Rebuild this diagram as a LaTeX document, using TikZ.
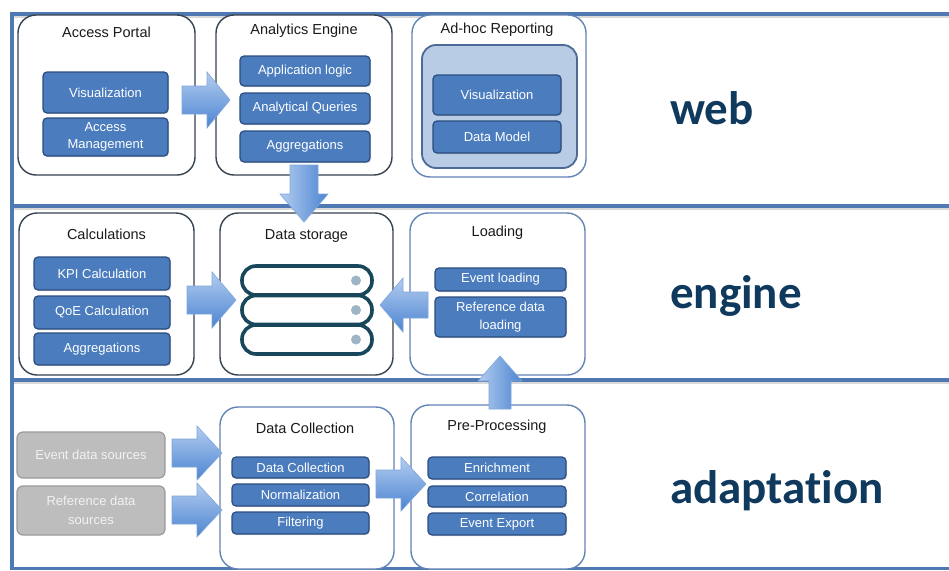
\documentclass[tikz,border=0pt]{standalone}
\usepackage{fontspec}
\setmainfont{Liberation Sans}
\newfontfamily\layerfont[Ligatures={NoCommon}]{Carlito}
\usetikzlibrary{shadows}

\definecolor{bandblue}{HTML}{4F79B2}
\definecolor{darkedge}{HTML}{36424F}
\definecolor{blueedge}{HTML}{6384B6}
\definecolor{innerfill}{HTML}{4A7CBE}
\definecolor{inneredge}{HTML}{2B4D7E}
\definecolor{lightfill}{HTML}{B9CCE5}
\definecolor{lightedge}{HTML}{4C6A95}
\definecolor{grayfill}{HTML}{BDBDBD}
\definecolor{grayedge}{HTML}{9A9A9A}
\definecolor{graytext}{HTML}{F2F2F2}
\definecolor{diskedge}{HTML}{18475C}
\definecolor{diskdot}{HTML}{9DB5C5}
\definecolor{arrowlight}{HTML}{B3CDF0}
\definecolor{arrowdark}{HTML}{4C84D1}
\definecolor{arrowedge}{HTML}{7FA6DA}
\definecolor{layertext}{HTML}{0F3A5E}
\definecolor{titletext}{HTML}{1A1A1A}

% horizontal block arrow: tail x, head base x, tip x, centre y, shaft half, head half
\newcommand\harrow[6]{%
  \path[arrowH] (#1,#4-#5) -- (#2,#4-#5) -- (#2,#4-#6) -- (#3,#4)
    -- (#2,#4+#6) -- (#2,#4+#5) -- (#1,#4+#5) -- cycle;}
% vertical block arrow: tail y, head base y, tip y, centre x, shaft half, head half
\newcommand\varrow[6]{%
  \path[arrowV] (#4-#5,#1) -- (#4-#5,#2) -- (#4-#6,#2) -- (#4,#3)
    -- (#4+#6,#2) -- (#4+#5,#2) -- (#4+#5,#1) -- cycle;}

\tikzset{
  wh/.style 2 args={minimum width=#1, minimum height=#2},
  outerbox/.style={draw=darkedge, line width=1.4pt, rounded corners=18pt,
    fill=white, inner sep=0pt, outer sep=0pt},
  outerblue/.style={outerbox, draw=blueedge},
  title/.style={text=titletext, font=\fontsize{14.5}{16}\selectfont, inner sep=0pt},
  inbox/.style={draw=inneredge, line width=1.2pt, fill=innerfill, rounded corners=4pt,
    text=white, font=\fontsize{13}{17.5}\selectfont, align=center, inner sep=0pt,
    drop shadow={shadow xshift=1pt, shadow yshift=-1pt, opacity=0.3}},
  lightbox/.style={draw=lightedge, line width=1.8pt, fill=lightfill, rounded corners=14pt,
    inner sep=0pt},
  graybox/.style={draw=grayedge, line width=1.2pt, fill=grayfill, rounded corners=6pt,
    text=graytext, font=\fontsize{13}{19}\selectfont, align=center, inner sep=0pt},
  disk/.style={draw=diskedge, line width=3.6pt, fill=white, rounded corners=14pt},
  band/.style={draw=bandblue, line width=4.5pt},
  bandshadow/.style={draw=black!25, line width=2pt, opacity=0.6},
  arrowH/.style={draw=arrowedge, line width=0.6pt, top color=arrowlight, bottom color=arrowdark},
  arrowV/.style={draw=arrowedge, line width=0.6pt, left color=arrowlight, right color=arrowdark},
  layer/.style={text=layertext, font=\layerfont\bfseries\fontsize{47}{50}\selectfont,
    inner sep=0pt, anchor=base west},
}

\begin{document}
\begin{tikzpicture}[x=1pt, y=-1pt]
\useasboundingbox (0,0) rectangle (949,570);
\clip (0,0) rectangle (949,570);
\fill[white] (0,0) rectangle (949,570);

% layer separators
\foreach \yy in {14,206,380} {
  \draw[bandshadow] (14,\yy+3) -- (949,\yy+3);
  \draw[band] (10,\yy) -- (949,\yy);
}
\draw[draw=bandblue, line width=2.5pt] (10,568.5) -- (949,568.5);
\draw[band] (12,12) -- (12,570);

% ---------- web layer ----------
\node[outerbox, wh={177pt}{160pt}] (ap) at (106.5,95) {};
\node[title] (apt) at (106.5,32) {Access Portal};
\node[inbox, wh={125pt}{41pt}] (apv) at (105.5,92.5) {Visualization};
\node[inbox, wh={125pt}{38pt}] (apm) at (105.5,137) {Access\\Management};

\node[outerbox, wh={176pt}{160pt}] (ae) at (304,95) {};
\node[title] (aet) at (304,31) {Analytics Engine};
\node[inbox, wh={130pt}{30pt}] (ae1) at (305,71) {Application logic};
\node[inbox, wh={130pt}{31pt}] (ae2) at (305,108.5) {Analytical Queries};
\node[inbox, wh={130pt}{31pt}] (ae3) at (305,146.5) {Aggregations};

\node[outerblue, wh={174pt}{162pt}] (ah) at (499,96) {};
\node[title] (aht) at (497,30) {Ad-hoc Reporting};
\node[lightbox, wh={155pt}{123pt}] (ahin) at (499.5,106.5) {};
\node[inbox, wh={128pt}{40pt}] (ah1) at (497,95) {Visualization};
\node[inbox, wh={128pt}{32pt}] (ah2) at (497,137) {Data Model};

\node[layer] (lweb) at (670,124) {web};

% ---------- engine layer ----------
\node[outerbox, wh={175pt}{162pt}] (calc) at (106.5,294) {};
\node[title] (calct) at (106.5,234) {Calculations};
\node[inbox, wh={136pt}{33pt}] (calc1) at (102,273.5) {KPI Calculation};
\node[inbox, wh={136pt}{33pt}] (calc2) at (102,312.5) {QoE Calculation};
\node[inbox, wh={136pt}{32pt}] (calc3) at (102,349) {Aggregations};

\node[outerbox, wh={173pt}{162pt}] (ds) at (306.5,294) {};
\node[title] (dst) at (306.5,236) {Data storage};
\foreach \yy in {266,295.5,325} {
  \draw[disk] (242,\yy) rectangle (372,\yy+29);
}
\foreach \yy in {280.5,310,339.5} {
  \fill[diskdot] (356,\yy) circle (5pt);
}

\node[outerblue, wh={175pt}{162pt}] (load) at (497.5,294) {};
\node[title] (loadt) at (497.5,233) {Loading};
\node[inbox, wh={131pt}{23pt}] (load1) at (500.5,279.5) {Event loading};
\node[inbox, wh={131pt}{40pt}] (load2) at (500.5,317) {Reference data\\loading};

\node[layer] (lengine) at (670,308) {engine};

% ---------- adaptation layer ----------
\node[graybox, wh={148pt}{46pt}] (ev) at (91,455) {Event data sources};
\node[graybox, wh={148pt}{49pt}] (rf) at (91,510.5) {Reference data\\sources};

\node[outerblue, wh={174pt}{162pt}] (dc) at (307,488) {};
\node[title] (dct) at (305,428) {Data Collection};
\node[inbox, wh={137pt}{21pt}] (dc1) at (300.5,467.5) {Data Collection};
\node[inbox, wh={137pt}{22pt}] (dc2) at (300.5,495) {Normalization};
\node[inbox, wh={137pt}{22pt}] (dc3) at (300.5,523) {Filtering};

\node[outerblue, wh={174pt}{164pt}] (pp) at (498,487) {};
\node[title] (ppt) at (497,427) {Pre-Processing};
\node[inbox, wh={138pt}{22pt}] (pp1) at (497,468) {Enrichment};
\node[inbox, wh={138pt}{21pt}] (pp2) at (497,496.5) {Correlation};
\node[inbox, wh={138pt}{22pt}] (pp3) at (497,524) {Event Export};

\node[layer] (ladapt) at (670,503) {adaptation};

% ---------- flow arrows ----------
\harrow{182}{207}{230}{100}{14}{28}   % Access Portal -> Analytics Engine
\varrow{165}{194}{222}{304}{14}{24}   % Analytics Engine -> Data storage
\harrow{187}{212}{236}{300}{14}{28}   % Calculations -> Data storage
\harrow{428}{403}{380}{305}{13}{27}   % Loading -> Data storage
\varrow{409}{381}{356}{500}{11}{22}   % Pre-Processing -> Loading
\harrow{172}{197}{222}{453}{14}{27}   % Event data sources -> Data Collection
\harrow{172}{197}{222}{510}{14}{27}   % Reference data sources -> Data Collection
\harrow{376}{401}{426}{484}{14}{27}   % Data Collection -> Pre-Processing
\end{tikzpicture}
\end{document}
